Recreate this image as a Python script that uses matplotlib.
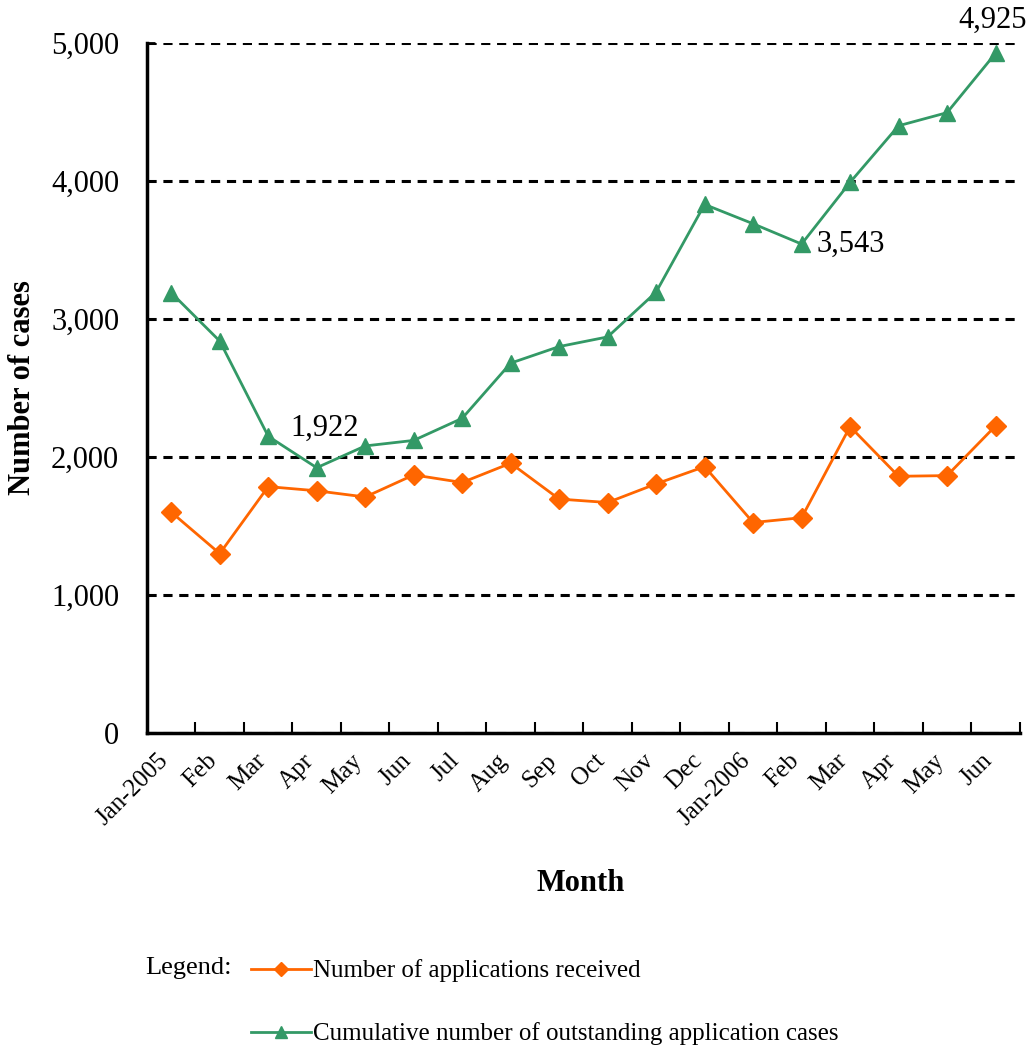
import numpy as np
import matplotlib.pyplot as plt
from matplotlib.ticker import FuncFormatter
from matplotlib.transforms import ScaledTranslation

plt.rcParams['font.family'] = ['Liberation Serif', 'DejaVu Serif']

# データ
months = ['Jan-2005', 'Feb', 'Mar', 'Apr', 'May', 'Jun', 'Jul', 'Aug', 'Sep',
          'Oct', 'Nov', 'Dec', 'Jan-2006', 'Feb', 'Mar', 'Apr', 'May', 'Jun']
received = [1600, 1300, 1785, 1755, 1710, 1870, 1815, 1955, 1695,
            1670, 1805, 1930, 1525, 1560, 2220, 1860, 1865, 2225]
outstanding = [3190, 2840, 2150, 1922, 2080, 2120, 2280, 2680, 2800,
               2870, 3195, 3830, 3690, 3543, 3990, 4400, 4495, 4925]
labelled = {3: '1,922', 13: '3,543', 17: '4,925'}

x = np.arange(len(months))

fig = plt.figure(figsize=(10.28, 10.48), dpi=100)
ax = fig.add_axes([0.143, 0.3006, 0.849, 0.6584])

l1, = ax.plot(x, received, color='#FF6600', lw=2, marker='D', ms=10,
              label='Number of applications received')
l2, = ax.plot(x, outstanding, color='#339966', lw=2, marker='^', ms=12,
              label='Cumulative number of outstanding application cases')

# ラベル
ax.annotate(labelled[3], (3, outstanding[3]), xytext=(6, 18), textcoords='offset points',
            ha='center', va='bottom', fontsize=22)
ax.annotate(labelled[13], (13, outstanding[13]), xytext=(11, 0), textcoords='offset points',
            ha='left', va='center', fontsize=22)
ax.annotate(labelled[17], (17, outstanding[17]), xytext=(-2, 13), textcoords='offset points',
            ha='center', va='bottom', fontsize=22, annotation_clip=False)

ax.set_xlim(-0.5, len(months) - 0.5)
ax.set_ylim(0, 5000)
ax.set_yticks(np.arange(0, 5001, 1000))
ax.yaxis.set_major_formatter(FuncFormatter(lambda v, p: f'{int(v):,}'))
ax.tick_params(axis='y', labelsize=22, direction='in', length=6, width=2, pad=20)

ax.set_xticks(x)
ax.set_xticklabels(months, rotation=45, ha='right', rotation_mode='anchor', fontsize=18)
ax.tick_params(axis='x', which='major', length=0, pad=12)
shift = ScaledTranslation(-14 / 100, 0, fig.dpi_scale_trans)
for t in ax.get_xticklabels():
    t.set_transform(t.get_transform() + shift)
ax.set_xticks(np.arange(0.5, len(months), 1.0), minor=True)
ax.tick_params(axis='x', which='minor', direction='in', length=8, width=1.5)

ax.grid(axis='y', color='black', linestyle=(0, (3, 2.2)), lw=2.2)
ax.set_axisbelow(True)
for s in ['top', 'right']:
    ax.spines[s].set_visible(False)
for s in ['left', 'bottom']:
    ax.spines[s].set_linewidth(2.5)

ax.set_ylabel('Number of cases', fontsize=22, fontweight='bold', labelpad=10)
fig.text(0.565, 0.157, 'Month', ha='center', va='center', fontsize=22, fontweight='bold')

fig.text(0.141, 0.076, 'Legend:', ha='left', va='center', fontsize=19)
fig.legend(handles=[l1, l2], loc='upper left', bbox_to_anchor=(0.222, 0.106),
           frameon=False, fontsize=18, labelspacing=1.6, handlelength=2.4,
           handletextpad=0.1, markerscale=0.75)

plt.savefig('out.png', dpi=100)
